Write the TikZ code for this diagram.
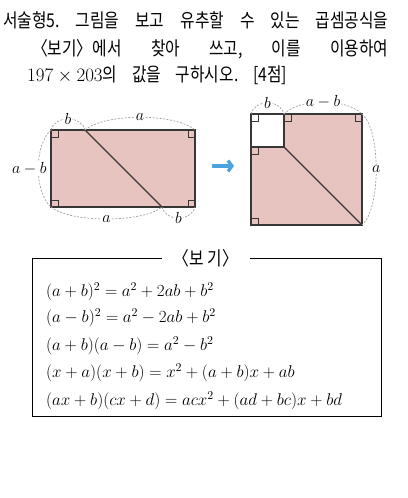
\RequirePackage{fix-cm}
\documentclass[tikz,border=0pt]{standalone}
\usepackage{fontspec}
\newfontfamily\kr[FakeStretch=0.83]{Noto Sans CJK KR}
\usetikzlibrary{arrows.meta}
\definecolor{pinkfill}{RGB}{232,196,192}
\definecolor{arrowblue}{RGB}{74,163,223}
\definecolor{edgegray}{RGB}{55,55,55}
\frenchspacing

\begin{document}
\begin{tikzpicture}[x=1pt,y=-1pt]

\tikzstyle{figline}=[draw=edgegray, line width=1.3pt]
\tikzstyle{dimarc}=[draw=gray!75, dash pattern=on 2pt off 1.5pt, line width=0.7pt]
\tikzstyle{dimlabel}=[fill=white, inner sep=1pt, font=\fontsize{16}{16}\selectfont]
\tikzstyle{rightangle}=[draw=edgegray, line width=0.7pt]
\tikzstyle{formula}=[anchor=west, inner sep=0pt, font=\fontsize{17}{20}\selectfont]
\tikzstyle{question}=[anchor=west, inner sep=0pt, font=\kr\fontsize{19}{19}\selectfont]

  \useasboundingbox (0,0) rectangle (407,498);

% question
  \node[question] (line1) at (3,20) {\makebox[385pt][s]{서술형5. 그림을 보고 유추할 수 있는 곱셈공식을}};
  \node[question] (line2) at (32,49) {\makebox[356pt][s]{〈보기〉에서 찾아 쓰고, 이를 이용하여}};
  \node[question] (line3) at (27,75) {\makebox[260pt][s]{\mbox{$197\times203$}의 값을 구하시오. [4점]}};

% rectangle
  \coordinate (L1) at (51,130);
  \coordinate (L2) at (195,130);
  \coordinate (L3) at (195,207);
  \coordinate (L4) at (51,207);
  \coordinate (LT) at (85,130);
  \coordinate (LB) at (162,207);

  \fill[pinkfill] (L1) rectangle (L3);
  \draw[figline] (L1) rectangle (L3);
  \draw[figline] (LT) -- (LB);

  \draw[rightangle] (L1) rectangle ++(7,7);
  \draw[rightangle] (L2) rectangle ++(-7,7);
  \draw[rightangle] (L3) rectangle ++(-7,-7);
  \draw[rightangle] (L4) rectangle ++(7,-7);

  \draw[dimarc] (L1) .. controls (55,115) and (81,115) .. node[dimlabel] (LtopB) {$b$} (LT);
  \draw[dimarc] (LT) .. controls (105,113) and (175,113) .. node[dimlabel] (LtopA) {$a$} (L2);
  \draw[dimarc] (L1) .. controls (34,145) and (34,192) .. node[dimlabel, xshift=-9pt] (LleftAB) {$a-b$} (L4);
  \draw[dimarc] (L4) .. controls (70,223) and (143,223) .. node[dimlabel] (LbotA) {$a$} (LB);
  \draw[dimarc] (LB) .. controls (166,222) and (191,222) .. node[dimlabel] (LbotB) {$b$} (L3);

% arrow
  \coordinate (arrowS) at (212,166);
  \coordinate (arrowE) at (234,166);
  \draw[-{Straight Barb[length=4pt,width=11pt]}, arrowblue, line width=3.2pt] (arrowS) -- (arrowE);

% square
  \coordinate (R1) at (251,114);
  \coordinate (R2) at (362,114);
  \coordinate (R3) at (362,225);
  \coordinate (R4) at (251,225);
  \coordinate (RT) at (284,114);
  \coordinate (RS) at (284,147);
  \coordinate (RL) at (251,147);

  \fill[pinkfill] (R1) rectangle (R3);
  \fill[white] (R1) rectangle (RS);
  \draw[figline] (R1) rectangle (R3);
  \draw[figline] (R1) rectangle (RS);
  \draw[figline] (RS) -- (R3);

  \draw[rightangle] (R1) rectangle ++(7,7);
  \draw[rightangle] (RT) rectangle ++(7,7);
  \draw[rightangle] (R2) rectangle ++(-7,7);
  \draw[rightangle] (RL) rectangle ++(7,7);
  \draw[rightangle] (R4) rectangle ++(7,-7);

  \draw[dimarc] (R1) .. controls (255,99) and (280,99) .. node[dimlabel] (RtopB) {$b$} (RT);
  \draw[dimarc] (RT) .. controls (300,98) and (346,98) .. node[dimlabel] (RtopAB) {$a-b$} (R2);
  \draw[dimarc] (R2) .. controls (381,130) and (381,209) .. node[dimlabel] (RrightA) {$a$} (R3);

% bogi
  \node[inner sep=0pt, font=\kr\fontsize{19}{19}\selectfont] (bogi) at (206,258) {〈보 기〉};
  \draw[line width=0.8pt] (162,258) -- (32,258) -- (32,416) -- (381,416) -- (381,258) -- (250,258);

  \node[formula] (f1) at (46,292) {$(a+b)^2=a^2+2ab+b^2$};
  \node[formula] (f2) at (46,318) {$(a-b)^2=a^2-2ab+b^2$};
  \node[formula] (f3) at (46,346) {$(a+b)(a-b)=a^2-b^2$};
  \node[formula] (f4) at (46,373) {$(x+a)(x+b)=x^2+(a+b)x+ab$};
  \node[formula] (f5) at (46,401) {$(ax+b)(cx+d)=acx^2+(ad+bc)x+bd$};

\end{tikzpicture}
\end{document}
